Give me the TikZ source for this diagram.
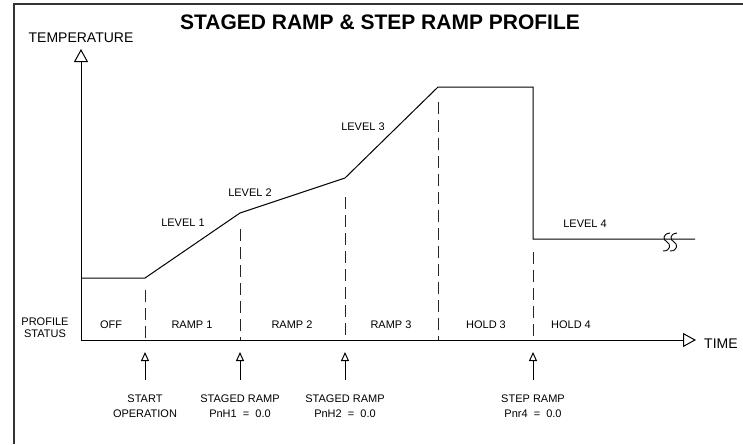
\documentclass[tikz,border=0pt]{standalone}
\usepackage{fontspec}
\setmainfont{Liberation Sans}
\usetikzlibrary{arrows.meta}
\begin{document}
\begin{tikzpicture}[x=1pt,y=-1pt,
  lbl/.style={font=\fontsize{11}{13}\selectfont, inner sep=0, anchor=base},
  axlbl/.style={font=\fontsize{14}{16}\selectfont, inner sep=0, anchor=base},
  prof/.style={line width=1pt, line join=miter},
  guide/.style={line width=1pt, black!85, dash pattern=on 12pt off 6pt},
  bigtip/.style={line width=1pt, -{Triangle[open,length=13pt,width=14pt]}},
  smalltip/.style={line width=1pt, -{Triangle[open,length=9pt,width=8pt]}},
  brk/.style={line width=0.9pt}
]
\useasboundingbox (0,0) rectangle (743,444);
\draw[line width=1.4pt, black!80] (14,444) -- (14,4) -- (743,4);

\node[font=\bfseries\fontsize{21}{24}\selectfont, inner sep=0, anchor=base] (title) at (380,30) {STAGED RAMP \& STEP RAMP PROFILE};

% axes
\coordinate (origin) at (81,340);
\coordinate (ytip) at (81,49);
\coordinate (xtip) at (696,340);
\draw[bigtip] (origin) -- (ytip);
\draw[bigtip] (origin) -- (xtip);
\node[axlbl, anchor=base] (templbl) at (81,42) {TEMPERATURE};
\node[axlbl, anchor=base west] (timelbl) at (704,348) {TIME};

% profile
\coordinate (p0) at (81,278);
\coordinate (p1) at (145,278);
\coordinate (p2) at (240,213);
\coordinate (p3) at (345,178);
\coordinate (p4) at (438,87);
\coordinate (p5) at (533,87);
\coordinate (p6) at (533,239);
\coordinate (p7) at (695,239);
\draw[prof] (p0) -- (p1) -- (p2) -- (p3) -- (p4) -- (p5) -- (p6) -- (p7);
\draw[brk] (670,233) .. controls (662,234) and (663,240) .. (667,242) .. controls (671,244) and (671,251) .. (663,251);
\draw[brk] (677,233) .. controls (669,234) and (670,240) .. (674,242) .. controls (678,244) and (678,251) .. (670,251);

% guide lines
\coordinate (g1t) at (145,290); \coordinate (g1b) at (145,340);
\coordinate (g2t) at (240,229); \coordinate (g2b) at (240,340);
\coordinate (g3t) at (345,197); \coordinate (g3b) at (345,340);
\coordinate (g4t) at (438,102); \coordinate (g4b) at (438,340);
\coordinate (g5t) at (533,252); \coordinate (g5b) at (533,340);
\foreach \g in {1,...,5} \draw[guide] (g\g t) -- (g\g b);

% level labels
\node[lbl] (lv1) at (183,226) {LEVEL 1};
\node[lbl] (lv2) at (250,196) {LEVEL 2};
\node[lbl] (lv3) at (363,130) {LEVEL 3};
\node[lbl] (lv4) at (585,227) {LEVEL 4};

% status labels
\node[lbl] (prof1) at (45,325) {PROFILE};
\node[lbl] (prof2) at (45,337) {STATUS};
\node[lbl] (off) at (111,328) {OFF};
\node[lbl] (r1) at (192,328) {RAMP 1};
\node[lbl] (r2) at (292,328) {RAMP 2};
\node[lbl] (r3) at (391,328) {RAMP 3};
\node[lbl] (h3) at (486,328) {HOLD 3};
\node[lbl] (h4) at (571,328) {HOLD 4};

% event arrows
\coordinate (a1b) at (145,380); \coordinate (a1t) at (145,352);
\coordinate (a2b) at (240,380); \coordinate (a2t) at (240,352);
\coordinate (a3b) at (345,380); \coordinate (a3t) at (345,352);
\coordinate (a4b) at (533,380); \coordinate (a4t) at (533,352);
\foreach \a in {1,...,4} \draw[smalltip] (a\a b) -- (a\a t);

\node[lbl] (e1a) at (145,402) {START};
\node[lbl] (e1b) at (145,417) {OPERATION};
\node[lbl] (e2a) at (240,402) {STAGED RAMP};
\node[lbl] (e2b) at (240,417) {PnH1 \ = \ 0.0};
\node[lbl] (e3a) at (345,402) {STAGED RAMP};
\node[lbl] (e3b) at (345,417) {PnH2 \ = \ 0.0};
\node[lbl] (e4a) at (533,402) {STEP RAMP};
\node[lbl] (e4b) at (533,417) {Pnr4 \ = \ 0.0};
\end{tikzpicture}
\end{document}
